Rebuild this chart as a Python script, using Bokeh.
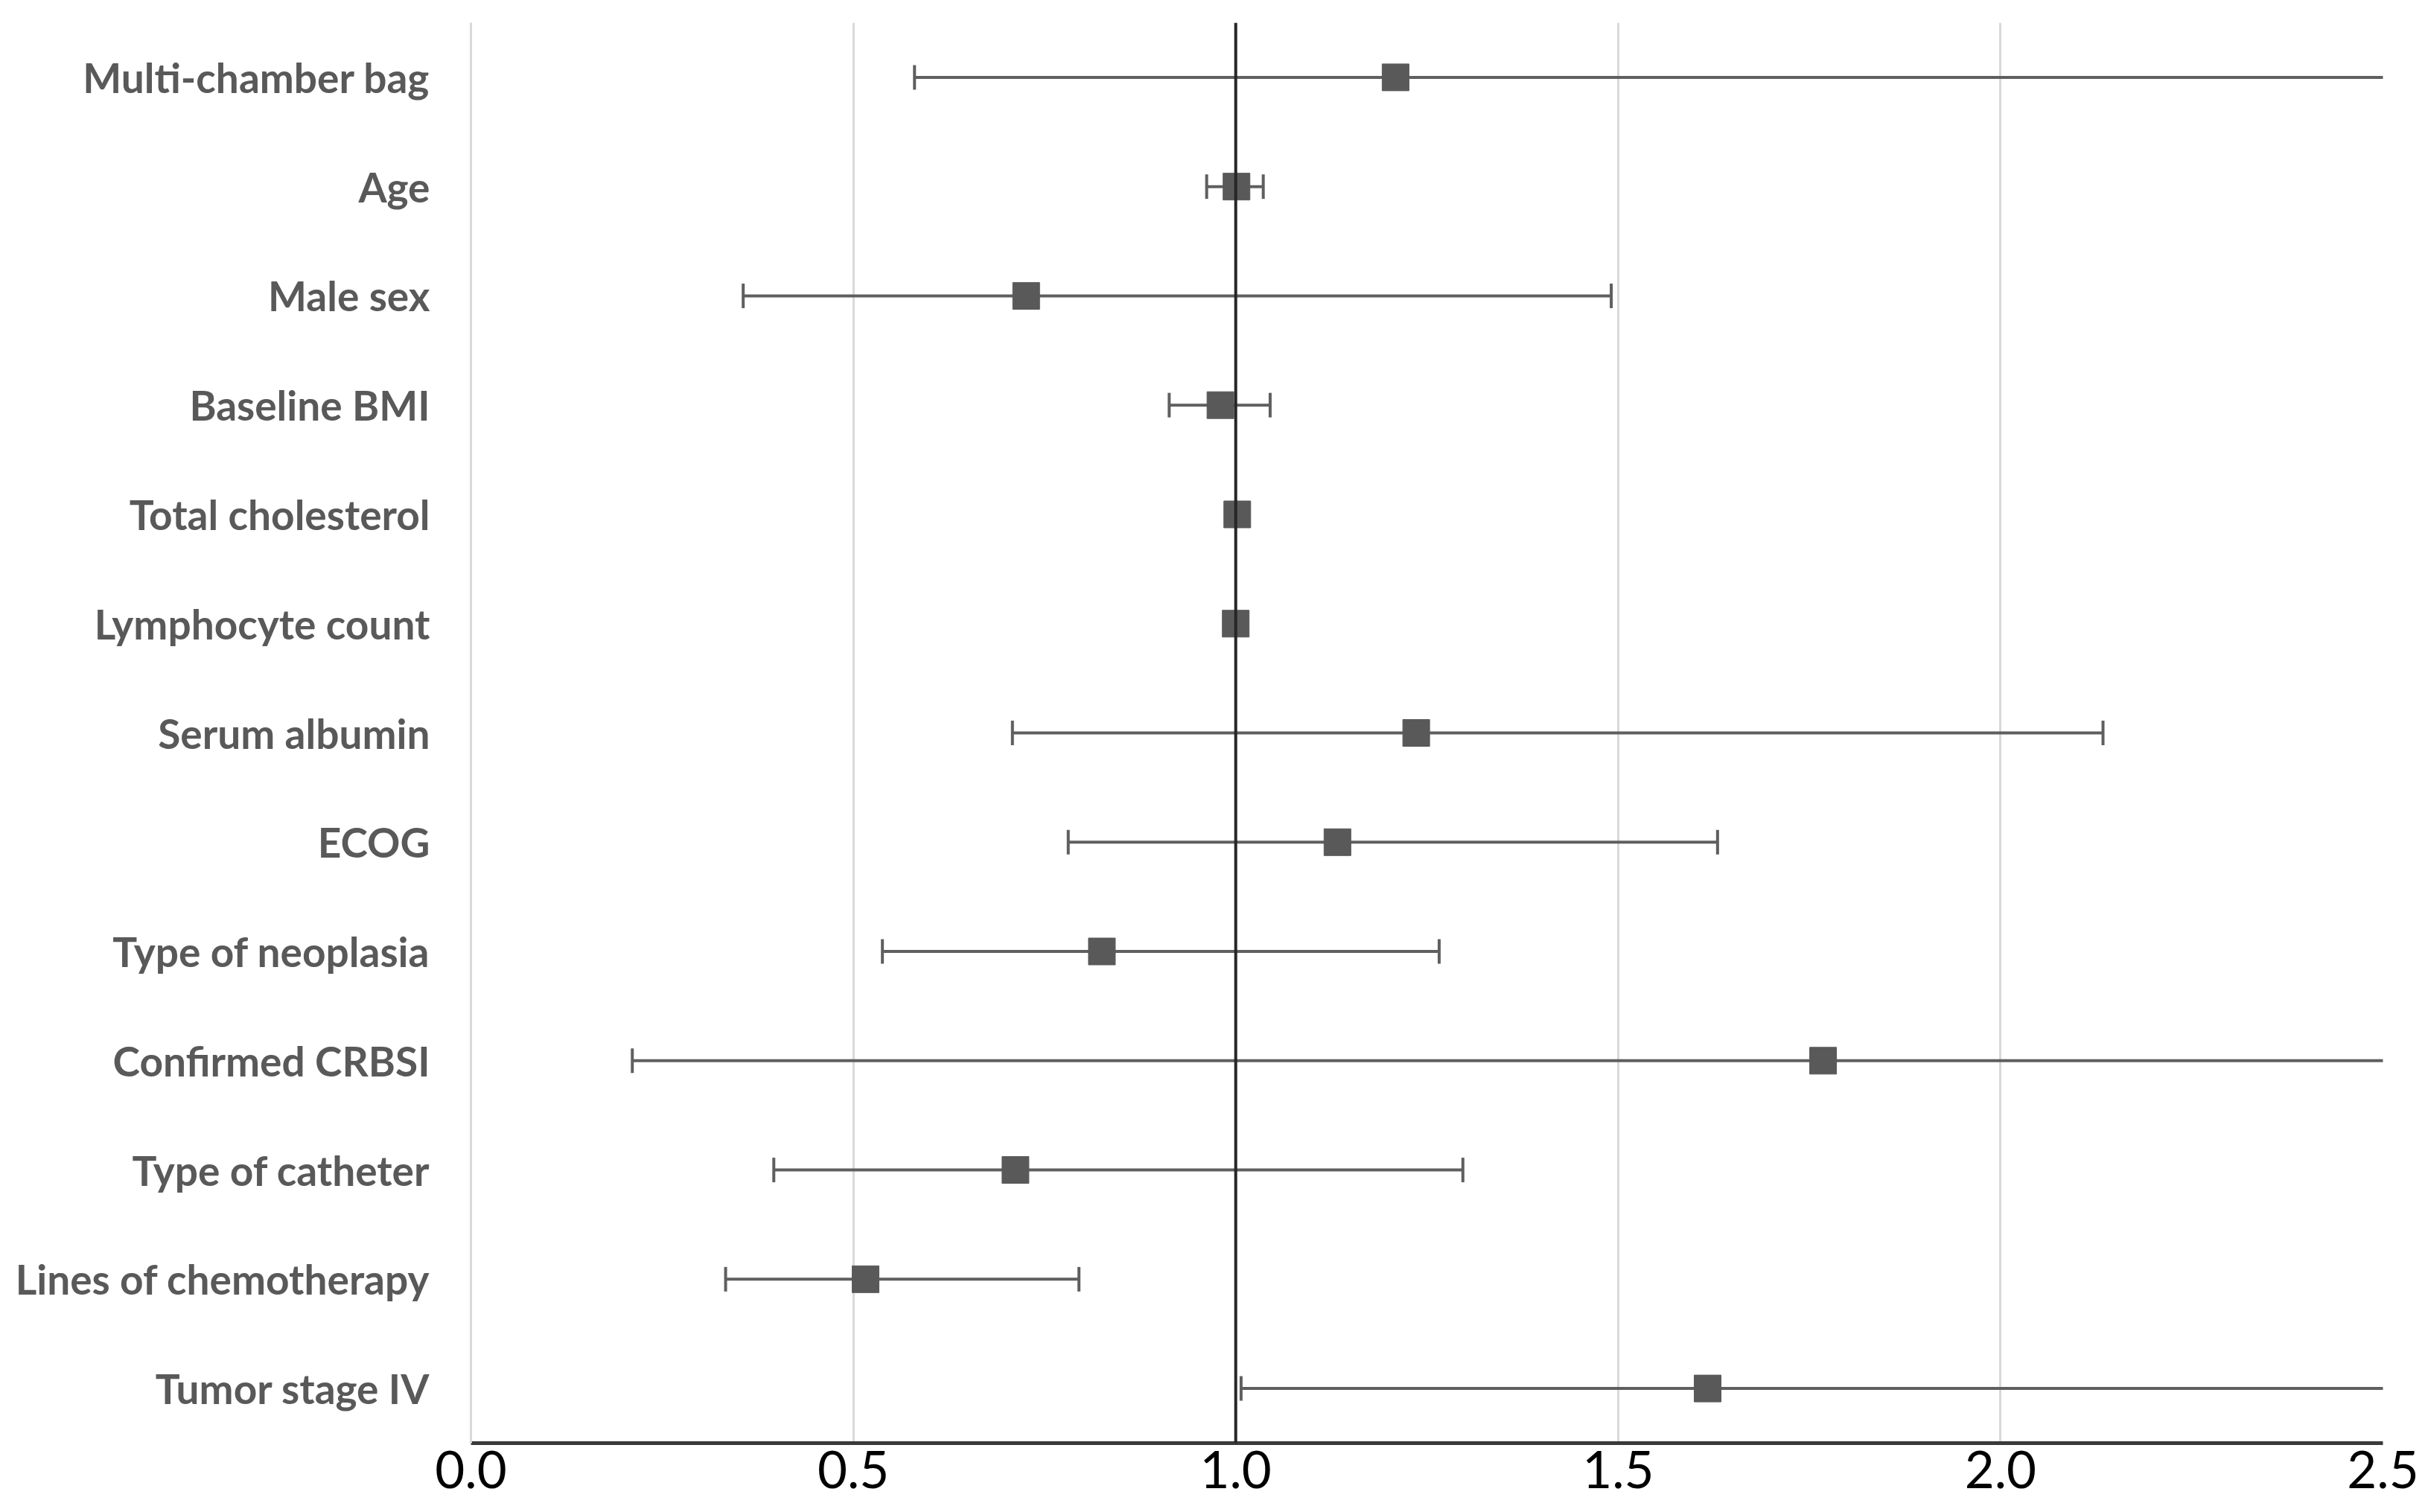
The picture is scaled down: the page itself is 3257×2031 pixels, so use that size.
import numpy as np
from bokeh.plotting import figure
from bokeh.models import FactorRange, Range1d, Span, FixedTicker, ColumnDataSource
from bokeh.embed import file_html
from bokeh.resources import INLINE

# ---- data (odds ratios with 95% CI) ----
variables = ["Multi-chamber bag", "Age", "Male sex", "Baseline BMI", "Total cholesterol",
             "Lymphocyte count", "Serum albumin", "ECOG", "Type of neoplasia",
             "Confirmed CRBSI", "Type of catheter", "Lines of chemotherapy", "Tumor stage IV"]
odds_ratio = [1.209, 1.001, 0.726, 0.980, 1.002, 1.000, 1.236, 1.133, 0.825, 1.768, 0.712, 0.516, 1.617]
ci_lower = [0.580, 0.962, 0.356, 0.913, 0.995, 0.998, 0.708, 0.781, 0.538, 0.211, 0.396, 0.333, 1.007]
ci_upper = [2.65, 1.036, 1.491, 1.045, 1.008, 1.002, 2.134, 1.630, 1.266, 2.90, 1.297, 0.795, 2.70]
x_ticks = [0.0, 0.5, 1.0, 1.5, 2.0, 2.5]

src = ColumnDataSource(dict(var=variables, orr=odds_ratio, lo=ci_lower, hi=ci_upper))

p = figure(width=3250, height=2030, output_backend="svg", toolbar_location=None,
           y_range=FactorRange(factors=list(reversed(variables))),
           x_range=Range1d(0, 2.5),
           min_border_left=632, min_border_right=50, min_border_top=30, min_border_bottom=92)
p.outline_line_color = None
p.background_fill_color = "white"
p.border_fill_color = "white"

# error bars
p.segment(x0="lo", x1="hi", y0="var", y1="var", source=src,
          line_color="#5f5f5f", line_width=4)
p.scatter(x="lo", y="var", source=src, marker="dash", angle=np.pi / 2, size=33,
          line_color="#5f5f5f", line_width=4)
p.scatter(x="hi", y="var", source=src, marker="dash", angle=np.pi / 2, size=33,
          line_color="#5f5f5f", line_width=4)
# point estimates
p.scatter(x="orr", y="var", source=src, marker="square", size=36,
          fill_color="#595959", line_color="#595959")

# reference line at 1
p.add_layout(Span(location=1.0, dimension="height", line_color="#262626", line_width=4))

# x axis
p.xaxis.ticker = FixedTicker(ticks=x_ticks)
p.xaxis.major_label_overrides = {t: f"{t:.1f}" for t in x_ticks}
p.xaxis.major_label_text_font = "Lato"
p.xaxis.major_label_text_font_size = "69px"
p.xaxis.major_label_text_color = "#000000"
p.xaxis.major_label_standoff = 4
p.xaxis.major_tick_line_color = None
p.xaxis.minor_tick_line_color = None
p.xaxis.axis_line_color = "#3a3a3a"
p.xaxis.axis_line_width = 5

# y axis
p.yaxis.major_label_text_font = "Lato"
p.yaxis.major_label_text_font_style = "bold"
p.yaxis.major_label_text_font_size = "55px"
p.yaxis.major_label_text_color = "#595959"
p.yaxis.major_label_standoff = 49
p.yaxis.major_tick_line_color = None
p.yaxis.minor_tick_line_color = None
p.yaxis.axis_line_color = "#d9d9d9"
p.yaxis.axis_line_width = 3

# grids
p.xgrid.grid_line_color = "#d9d9d9"
p.xgrid.grid_line_width = 3
p.ygrid.grid_line_color = None

open("out.html", "w").write(file_html(p, INLINE))
